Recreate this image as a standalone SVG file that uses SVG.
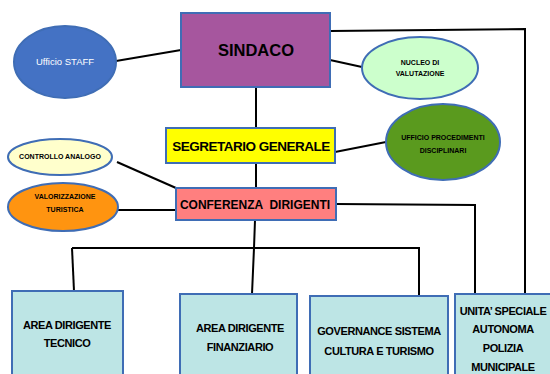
<svg xmlns="http://www.w3.org/2000/svg" width="550" height="374" viewBox="0 0 550 374">
<style>
.box{stroke:#3F6DB5;stroke-width:2}
.ell{stroke:#3F6DB5;stroke-width:2}
.con{fill:none;stroke:#000;stroke-width:2}
text{font-family:"Liberation Sans",Arial,sans-serif;text-anchor:middle;font-weight:bold;fill:#000}
.s{font-size:7px}
.area{font-size:11px;letter-spacing:-0.4px}
</style>
<rect width="550" height="374" fill="#fff"/>
<g id="connectors">
<line class="con" x1="116" y1="61" x2="181" y2="50"/>
<line class="con" x1="330" y1="60" x2="362" y2="67"/>
<polyline class="con" points="330,31 525,29 525,294"/>
<line class="con" x1="256" y1="87" x2="256" y2="128"/>
<line class="con" x1="335" y1="152" x2="386" y2="142"/>
<line class="con" x1="256" y1="163" x2="256" y2="188"/>
<line class="con" x1="117" y1="162" x2="176" y2="188"/>
<line class="con" x1="118" y1="210" x2="176" y2="210"/>
<polyline class="con" points="336,204 475,205 475,294"/>
<polyline class="con" points="255,220 254,248 252,294"/>
<line class="con" x1="72" y1="248" x2="420" y2="248"/>
<line class="con" x1="72" y1="248" x2="74" y2="291"/>
<line class="con" x1="419" y1="248" x2="419" y2="296"/>
</g>
<g id="sindaco">
<rect class="box" x="181" y="13" width="149" height="74" fill="#A6569E"/>
<text x="256" y="56" font-size="16.5">SINDACO</text>
</g>
<g id="staff">
<ellipse class="ell" cx="65" cy="62" rx="51" ry="36" fill="#4472C4"/>
<text x="65" y="65" font-size="9.5" style="font-weight:normal;fill:#fff">Ufficio STAFF</text>
</g>
<g id="nucleo">
<ellipse class="ell" cx="420" cy="68" rx="58" ry="31" fill="#CCFFCC"/>
<text class="s" x="420" y="65">NUCLEO DI</text>
<text class="s" x="420" y="76">VALUTAZIONE</text>
</g>
<g id="segretario">
<rect class="box" x="166" y="128" width="169" height="35" fill="#FFFF00"/>
<text x="251" y="151" font-size="13.5" letter-spacing="-0.5">SEGRETARIO GENERALE</text>
</g>
<g id="procedimenti">
<ellipse class="ell" cx="443" cy="142" rx="57" ry="38" fill="#5A9A1E"/>
<text class="s" x="443" y="140">UFFICIO PROCEDIMENTI</text>
<text class="s" x="443" y="153">DISCIPLINARI</text>
</g>
<g id="controllo">
<ellipse class="ell" cx="60" cy="157" rx="52" ry="18" fill="#FFFFCC"/>
<text class="s" x="60" y="159">CONTROLLO ANALOGO</text>
</g>
<g id="valorizzazione">
<ellipse class="ell" cx="63" cy="207" rx="55" ry="24" fill="#FF9410"/>
<text class="s" x="65" y="199">VALORIZZAZIONE</text>
<text class="s" x="65" y="212">TURISTICA</text>
</g>
<g id="conferenza">
<rect class="box" x="176" y="188" width="160" height="32" fill="#FF7F7F"/>
<text x="255" y="209" font-size="12" style="font-weight:600" xml:space="preserve">CONFERENZA  DIRIGENTI</text>
</g>
<g id="tecnico">
<rect class="box" x="12" y="291" width="111" height="90" fill="#BDE5E5"/>
<text class="area" x="67" y="329">AREA DIRIGENTE</text>
<text class="area" x="67" y="347">TECNICO</text>
</g>
<g id="finanziario">
<rect class="box" x="180" y="294" width="117" height="90" fill="#BDE5E5"/>
<text class="area" x="240" y="332">AREA DIRIGENTE</text>
<text class="area" x="240" y="351">FINANZIARIO</text>
</g>
<g id="governance">
<rect class="box" x="310" y="296" width="138" height="90" fill="#BDE5E5"/>
<text class="area" x="379" y="335">GOVERNANCE SISTEMA</text>
<text class="area" x="379" y="355">CULTURA E TURISMO</text>
</g>
<g id="unita">
<rect class="box" x="455" y="294" width="100" height="90" fill="#BDE5E5"/>
<text class="area" x="503" y="315">UNITA’ SPECIALE</text>
<text class="area" x="503" y="333">AUTONOMA</text>
<text class="area" x="503" y="352">POLIZIA</text>
<text class="area" x="503" y="371">MUNICIPALE</text>
</g>
</svg>
